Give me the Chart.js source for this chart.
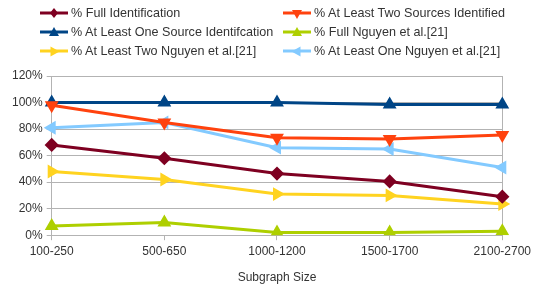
<!DOCTYPE html>
<html>
<head>
<meta charset="utf-8">
<script src="https://cdn.jsdelivr.net/npm/chart.js@4.4.1/dist/chart.umd.min.js"></script>
<style>
    html, body { margin: 0; padding: 0; background: #fff; }
    #wrap { position: relative; width: 535px; height: 289px; }
    #legend { position: absolute; left: 0; top: 0; width: 535px; height: 62px; font-family: "Liberation Sans", Arial, sans-serif; font-size: 12.6px; color: #333; }
    .item { position: absolute; display: flex; align-items: center; height: 16px; white-space: nowrap; }
    .item svg { margin-right: 3px; }
</style>
</head>
<body>
<div id="wrap">
    <canvas id="chart" width="535" height="289"></canvas>
    <div id="legend"></div>
</div>
<script>
    const categories = ['100-250', '500-650', '1000-1200', '1500-1700', '2100-2700'];

    const fullIdent = [68, 58, 46.5, 40.5, 29];
    const atLeastTwo = [98, 85, 73.5, 72.5, 75.5];
    const atLeastOne = [100, 100, 100, 98.5, 98.5];
    const fullNguyen = [7, 9.5, 2, 2, 3];
    const atLeastTwoNguyen = [48, 42, 31, 30, 23.5];
    const atLeastOneNguyen = [81, 85, 66, 65, 51];

    const yTicks = [0, 20, 40, 60, 80, 100, 120];

    const series = [
        { label: '% Full Identification', data: fullIdent, color: '#7e0021', style: 'rectRot', rot: 0 },
        { label: '% At Least Two Sources Identified', data: atLeastTwo, color: '#ff420e', style: 'triangle', rot: 180 },
        { label: '% At Least One Source Identifcation', data: atLeastOne, color: '#004586', style: 'triangle', rot: 0 },
        { label: '% Full Nguyen et al.[21]', data: fullNguyen, color: '#aecf00', style: 'triangle', rot: 0 },
        { label: '% At Least Two Nguyen et al.[21]', data: atLeastTwoNguyen, color: '#ffd320', style: 'triangle', rot: 90 },
        { label: '% At Least One Nguyen et al.[21]', data: atLeastOneNguyen, color: '#83caff', style: 'triangle', rot: -90 }
    ];

    // legend built as html, two columns like the original
    function markerSvg(s) {
        let shape;
        if (s.style === 'rectRot') {
            shape = '<polygon points="14,3 18,8 14,13 10,8" fill="' + s.color + '"/>';
        } else {
            shape = '<polygon points="14,3 19,12 9,12" fill="' + s.color + '" transform="rotate(' + s.rot + ' 14 8.5)"/>';
        }
        return '<svg width="28" height="16"><line x1="0" y1="8" x2="28" y2="8" stroke="' + s.color + '" stroke-width="3"/>' + shape + '</svg>';
    }

    const legend = document.getElementById('legend');
    series.forEach((s, i) => {
        const div = document.createElement('div');
        div.className = 'item';
        div.style.left = (i % 2 === 0 ? 40 : 283) + 'px';
        div.style.top = (5 + Math.floor(i / 2) * 19) + 'px';
        div.innerHTML = markerSvg(s) + '<span>' + s.label + '</span>';
        legend.appendChild(div);
    });

    const gridColor = '#b3b3b3';
    const font = { family: '"Liberation Sans", Arial, sans-serif', size: 12 };

    new Chart(document.getElementById('chart'), {
        type: 'line',
        data: {
            labels: categories,
            datasets: series.map(s => ({
                label: s.label,
                data: s.data,
                borderColor: s.color,
                backgroundColor: s.color,
                pointBackgroundColor: s.color,
                pointBorderColor: s.color,
                pointStyle: s.style,
                rotation: s.rot,
                pointRadius: 5,
                borderWidth: 3,
                tension: 0
            }))
        },
        options: {
            responsive: false,
            animation: false,
            layout: { padding: { top: 76, left: 8, right: 4, bottom: 0 } },
            plugins: {
                legend: { display: false },
                tooltip: { enabled: false }
            },
            scales: {
                x: {
                    offset: false,
                    grid: {
                        color: ctx => (ctx.index === 0 || ctx.index === categories.length - 1) ? gridColor : 'rgba(0,0,0,0)',
                        tickColor: gridColor,
                        tickLength: 5
                    },
                    border: { color: gridColor },
                    ticks: { color: '#333', font: font, maxRotation: 0, autoSkip: false, padding: 4 },
                    title: { display: true, text: 'Subgraph Size', color: '#333', font: font, padding: { top: 8, bottom: 4 } }
                },
                y: {
                    min: 0,
                    max: 120,
                    afterBuildTicks: axis => { axis.ticks = yTicks.map(v => ({ value: v })); },
                    grid: { color: gridColor, tickLength: 5 },
                    border: { color: gridColor },
                    ticks: { color: '#333', font: font, padding: 4, callback: v => v + '%' }
                }
            }
        }
    });
</script>
</body>
</html>
